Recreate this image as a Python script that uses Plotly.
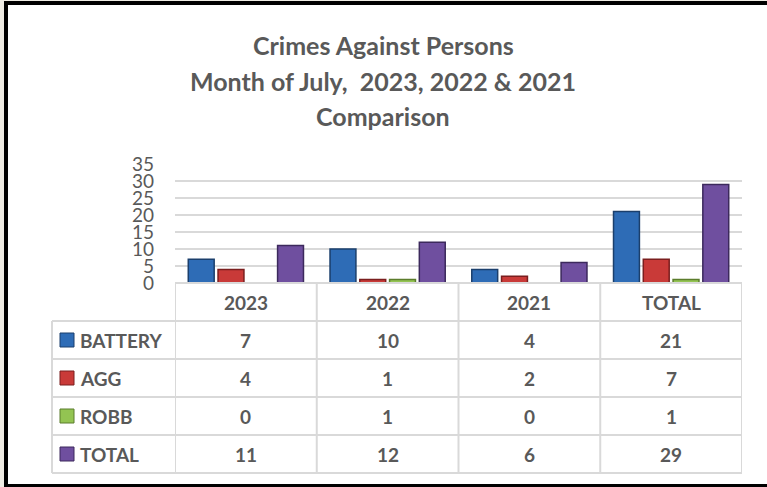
import plotly.graph_objects as go

categories = ["2023", "2022", "2021", "TOTAL"]
series_names = ["BATTERY", "AGG", "ROBB", "TOTAL"]
battery = [7, 10, 4, 21]
agg = [4, 1, 2, 7]
robb = [0, 1, 0, 1]
total = [11, 12, 6, 29]
y_ticks = [0, 5, 10, 15, 20, 25, 30, 35]

series_values = [battery, agg, robb, total]
fills = ["#2e6cb6", "#c93a38", "#93c452", "#6f4f9f"]
edges = ["#1b3f6c", "#7a1e1e", "#5b7c2c", "#3c295c"]

W, H = 767, 487
L, R, T, B = 175, 742, 164, 283
TXT = "#595959"
GRID = "#d9d9d9"
FONT = "Lato"


def px(p):
    return (p - L) / (R - L)


def py(p):
    return (B - p) / (B - T)


fig = go.Figure()
for name, vals, fc, ec in zip(series_names, series_values, fills, edges):
    fig.add_trace(go.Bar(
        x=categories, y=vals, name=name,
        marker=dict(color=fc, line=dict(color=ec, width=1.5)),
        showlegend=False, hoverinfo="x+y+name",
    ))

shapes = []
annotations = []

# outer frame
shapes.append(dict(type="rect", xref="paper", yref="paper", x0=px(0), x1=px(4), y0=py(0), y1=py(H),
                   fillcolor="#efece4", line=dict(width=0), layer="above"))
shapes.append(dict(type="rect", xref="paper", yref="paper", x0=px(0), x1=px(W), y0=py(0), y1=py(1),
                   fillcolor="#efece4", line=dict(width=0), layer="above"))
shapes.append(dict(type="rect", xref="paper", yref="paper", x0=px(4), x1=px(8), y0=py(1), y1=py(H),
                   fillcolor="black", line=dict(width=0), layer="above"))
shapes.append(dict(type="rect", xref="paper", yref="paper", x0=px(4), x1=px(W), y0=py(1), y1=py(5),
                   fillcolor="black", line=dict(width=0), layer="above"))
shapes.append(dict(type="rect", xref="paper", yref="paper", x0=px(4), x1=px(W), y0=py(484), y1=py(H),
                   fillcolor="black", line=dict(width=0), layer="above"))

# title
for txt, yc in [("Crimes Against Persons", 45), ("Month of July,  2023, 2022 & 2021", 81),
                ("Comparison", 116)]:
    annotations.append(dict(text="<b>" + txt.replace("  ", "&nbsp; ") + "</b>", xref="paper", yref="paper",
                            x=px(383), y=py(yc), xanchor="center", yanchor="middle", showarrow=False,
                            font=dict(family=FONT, size=25, color=TXT)))

# table grid
row_edges = [283, 321, 359, 397, 435, 473]
lab_left = 52
gl = dict(color=GRID, width=2)
shapes.append(dict(type="line", xref="paper", yref="paper", x0=px(L), x1=px(R), y0=py(283), y1=py(283), line=gl))
for r in row_edges[1:]:
    shapes.append(dict(type="line", xref="paper", yref="paper", x0=px(lab_left), x1=px(R), y0=py(r), y1=py(r), line=gl))
shapes.append(dict(type="line", xref="paper", yref="paper", x0=px(lab_left), x1=px(lab_left),
                   y0=py(321), y1=py(473), line=gl))
for i in range(len(categories) + 1):
    shapes.append(dict(type="line", xref="x", yref="paper", x0=i - 0.5, x1=i - 0.5,
                       y0=py(283), y1=py(473), line=gl))

cell_font = dict(family=FONT, size=19, color=TXT)
# header
for ci, c in enumerate(categories):
    annotations.append(dict(text="<b>%s</b>" % c, xref="x", yref="paper", x=ci, y=py(302),
                            showarrow=False, xanchor="center", yanchor="middle", font=cell_font))
# rows
for ri, (name, vals, fc, ec) in enumerate(zip(series_names, series_values, fills, edges)):
    yc = (row_edges[ri + 1] + row_edges[ri + 2]) / 2
    shapes.append(dict(type="rect", xref="paper", yref="paper", x0=px(60), x1=px(74),
                       y0=py(yc - 7), y1=py(yc + 7), fillcolor=fc, line=dict(color=ec, width=1)))
    annotations.append(dict(text="<b>%s</b>" % name, xref="paper", yref="paper", x=px(78), y=py(yc),
                            showarrow=False, xanchor="left", yanchor="middle", font=cell_font))
    for ci, v in enumerate(vals):
        annotations.append(dict(text="<b>%d</b>" % v, xref="x", yref="paper", x=ci, y=py(yc),
                                showarrow=False, xanchor="center", yanchor="middle", font=cell_font))

fig.update_layout(
    width=W, height=H,
    margin=dict(l=L, r=W - R, t=T, b=H - B, pad=0, autoexpand=False),
    paper_bgcolor="white", plot_bgcolor="white",
    barmode="group", bargap=0.16, bargroupgap=0.13,
    shapes=shapes, annotations=annotations,
    xaxis=dict(type="category", categoryorder="array", categoryarray=categories,
               range=[-0.5, len(categories) - 0.5], fixedrange=True,
               showticklabels=False, showgrid=False, zeroline=False, showline=False, ticks=""),
    yaxis=dict(range=[0, 35], tickvals=y_ticks, showgrid=True, gridcolor=GRID, gridwidth=2,
               zeroline=False, showline=False, ticks="", ticklabelstandoff=20, fixedrange=True,
               tickfont=dict(family=FONT, size=19, color=TXT)),
)

fig.write_html("out.html", config={"displayModeBar": False},
               post_script="document.body.style.margin='0';")
